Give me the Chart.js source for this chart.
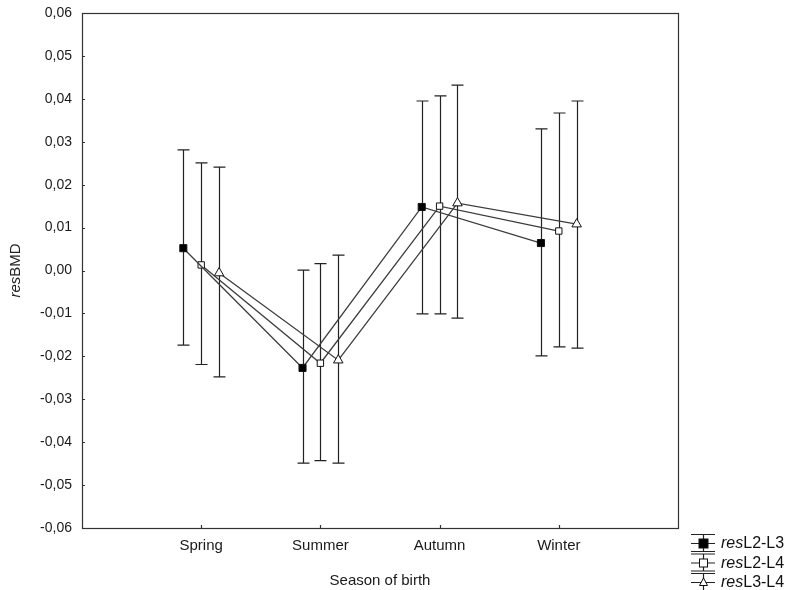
<!DOCTYPE html>
<html>
<head>
<meta charset="utf-8">
<script src="https://cdn.jsdelivr.net/npm/chart.js@4.4.0/dist/chart.umd.min.js"></script>
<style>
  html, body { margin: 0; padding: 0; background: #fff; }
  #wrap { width: 789px; height: 590px; }
</style>
</head>
<body>
<div id="wrap"><canvas id="seasonChart" width="789" height="590"></canvas></div>
<script>
// categories on the x axis
var categories = ['Spring', 'Summer', 'Autumn', 'Winter'];
var yTicks = [-0.06, -0.05, -0.04, -0.03, -0.02, -0.01, 0, 0.01, 0.02, 0.03, 0.04, 0.05, 0.06];

// series: means and 95% CI bounds
var seriesNames = ['L2-L3', 'L2-L4', 'L3-L4'];
var mean23 = [0.0052, -0.0227, 0.0148, 0.0064];
var lo23   = [-0.0174, -0.0449, -0.0101, -0.0199];
var hi23   = [0.0281, 0.0001, 0.0395, 0.0330];
var mean24 = [0.0013, -0.0216, 0.0150, 0.0092];
var lo24   = [-0.0219, -0.0443, -0.0101, -0.0178];
var hi24   = [0.0251, 0.0016, 0.0407, 0.0367];
var mean34 = [-0.0006, -0.0209, 0.0157, 0.0108];
var lo34   = [-0.0248, -0.0449, -0.0111, -0.0181];
var hi34   = [0.0241, 0.0036, 0.0432, 0.0395];

var offsets = [-0.15, 0, 0.15];
var means = [mean23, mean24, mean34];
var lows = [lo23, lo24, lo34];
var highs = [hi23, hi24, hi34];
var styles = [
  { pointStyle: 'rect', radius: 5, fill: '#000' },
  { pointStyle: 'rect', radius: 4.5, fill: '#fff' },
  { pointStyle: 'triangle', radius: 5.5, fill: '#fff' }
];
var FONT = '"Liberation Sans", Arial, sans-serif';

function fmt(v) {
  return v.toFixed(2).replace('.', ',');
}

var datasets = [];
for (var s = 0; s < 3; s++) {
  var pts = [];
  for (var j = 0; j < categories.length; j++) {
    pts.push({ x: j + 1 + offsets[s], y: means[s][j] });
  }
  datasets.push({
    label: seriesNames[s],
    data: pts,
    borderColor: '#3c3c3c',
    borderWidth: 1.3,
    pointStyle: styles[s].pointStyle,
    pointRadius: styles[s].radius,
    pointBackgroundColor: styles[s].fill,
    pointBorderColor: '#111',
    pointBorderWidth: 1,
    tension: 0,
    fill: false
  });
}

// error bars, frame, inward ticks, y title and legend
var extras = {
  id: 'extras',
  beforeDatasetsDraw: function(chart) {
    var ctx = chart.ctx, xs = chart.scales.x, ys = chart.scales.y;
    ctx.save();
    ctx.strokeStyle = '#222';
    ctx.lineWidth = 1.2;
    for (var s = 0; s < 3; s++) {
      for (var j = 0; j < categories.length; j++) {
        var px = Math.round(xs.getPixelForValue(j + 1 + offsets[s])) + 0.5;
        var pTop = ys.getPixelForValue(highs[s][j]);
        var pBot = ys.getPixelForValue(lows[s][j]);
        ctx.beginPath();
        ctx.moveTo(px, pTop); ctx.lineTo(px, pBot);
        ctx.moveTo(px - 6, pTop); ctx.lineTo(px + 6, pTop);
        ctx.moveTo(px - 6, pBot); ctx.lineTo(px + 6, pBot);
        ctx.stroke();
      }
    }
    ctx.restore();
  },
  afterDraw: function(chart) {
    var ctx = chart.ctx, a = chart.chartArea, xs = chart.scales.x, ys = chart.scales.y;
    ctx.save();
    // frame
    ctx.strokeStyle = '#333';
    ctx.lineWidth = 1.2;
    ctx.strokeRect(Math.round(a.left) + 0.5, Math.round(a.top) + 0.5,
      Math.round(a.right - a.left), Math.round(a.bottom - a.top));
    // inward ticks
    ctx.beginPath();
    for (var i = 0; i < yTicks.length; i++) {
      var py = Math.round(ys.getPixelForValue(yTicks[i])) + 0.5;
      ctx.moveTo(a.left, py); ctx.lineTo(a.left + 3, py);
    }
    for (var j = 0; j < categories.length; j++) {
      var px = Math.round(xs.getPixelForValue(j + 1)) + 0.5;
      ctx.moveTo(px, a.bottom); ctx.lineTo(px, a.bottom - 3);
    }
    ctx.stroke();

    // y axis title: italic "res" + "BMD"
    ctx.fillStyle = '#222';
    ctx.translate(16, (a.top + a.bottom) / 2);
    ctx.rotate(-Math.PI / 2);
    ctx.textBaseline = 'middle';
    ctx.font = 'italic 15px ' + FONT;
    var w1 = ctx.measureText('res').width;
    ctx.font = '15px ' + FONT;
    var w2 = ctx.measureText('BMD').width;
    var start = -(w1 + w2) / 2;
    ctx.textAlign = 'left';
    ctx.font = 'italic 15px ' + FONT;
    ctx.fillText('res', start, 0);
    ctx.font = '15px ' + FONT;
    ctx.fillText('BMD', start + w1, 0);
    ctx.setTransform(1, 0, 0, 1, 0, 0);

    // legend
    for (var s = 0; s < 3; s++) {
      var cy = 543 + s * 19.5;
      var cx = 703;
      ctx.strokeStyle = '#222';
      ctx.lineWidth = 1.2;
      ctx.beginPath();
      ctx.moveTo(cx - 12, cy - 8.5); ctx.lineTo(cx + 12, cy - 8.5);
      ctx.moveTo(cx - 12, cy + 0.5); ctx.lineTo(cx + 12, cy + 0.5);
      ctx.moveTo(cx - 12, cy + 8.5); ctx.lineTo(cx + 12, cy + 8.5);
      ctx.moveTo(cx + 0.5, cy - 8.5); ctx.lineTo(cx + 0.5, cy + 8.5);
      ctx.stroke();
      ctx.lineWidth = 1;
      ctx.fillStyle = styles[s].fill;
      ctx.strokeStyle = '#111';
      if (styles[s].pointStyle === 'rect') {
        var r = styles[s].radius - 0.5;
        ctx.fillRect(cx + 0.5 - r, cy + 0.5 - r, 2 * r, 2 * r);
        ctx.strokeRect(cx + 0.5 - r, cy + 0.5 - r, 2 * r, 2 * r);
      } else {
        ctx.beginPath();
        ctx.moveTo(cx + 0.5, cy - 4);
        ctx.lineTo(cx + 4.5, cy + 3.5);
        ctx.lineTo(cx - 3.5, cy + 3.5);
        ctx.closePath();
        ctx.fill(); ctx.stroke();
      }
      ctx.fillStyle = '#111';
      ctx.textAlign = 'left';
      ctx.textBaseline = 'middle';
      ctx.font = 'italic 16px ' + FONT;
      ctx.fillText('res', 721, cy + 1);
      var rw = ctx.measureText('res').width;
      ctx.font = '16px ' + FONT;
      ctx.fillText(seriesNames[s], 721 + rw, cy + 1);
    }
    ctx.restore();
  }
};

var ctx = document.getElementById('seasonChart');
var seasonChart = new Chart(ctx, {
  type: 'line',
  data: { datasets: datasets },
  options: {
    responsive: false,
    animation: false,
    layout: { padding: { left: 0, top: 13, right: 111, bottom: 0 } },
    plugins: {
      legend: { display: false },
      tooltip: { enabled: false }
    },
    scales: {
      x: {
        type: 'linear',
        min: 0,
        max: 5,
        afterBuildTicks: function(scale) {
          scale.ticks = categories.map(function(c, i) { return { value: i + 1 }; });
        },
        afterFit: function(scale) {
          scale.height = 62;
          scale.paddingLeft = 0;
          scale.paddingRight = 0;
        },
        grid: { display: false, drawTicks: false },
        border: { display: false },
        ticks: {
          padding: 9,
          color: '#1a1a1a',
          font: { family: FONT, size: 15 },
          callback: function(v) { return categories[v - 1] || ''; }
        },
        title: {
          display: true,
          text: 'Season of birth',
          color: '#1a1a1a',
          padding: { top: 6, bottom: 0 },
          font: { family: FONT, size: 15 }
        }
      },
      y: {
        min: -0.06,
        max: 0.06,
        afterBuildTicks: function(scale) {
          scale.ticks = yTicks.map(function(v) { return { value: v }; });
        },
        afterFit: function(scale) {
          scale.width = 82;
          scale.paddingTop = 0;
          scale.paddingBottom = 0;
        },
        grid: { display: false, drawTicks: false },
        border: { display: false },
        ticks: {
          padding: 10,
          color: '#1a1a1a',
          font: { family: FONT, size: 14 },
          callback: function(v) { return fmt(v); }
        }
      }
    }
  },
  plugins: [extras]
});
</script>
</body>
</html>
